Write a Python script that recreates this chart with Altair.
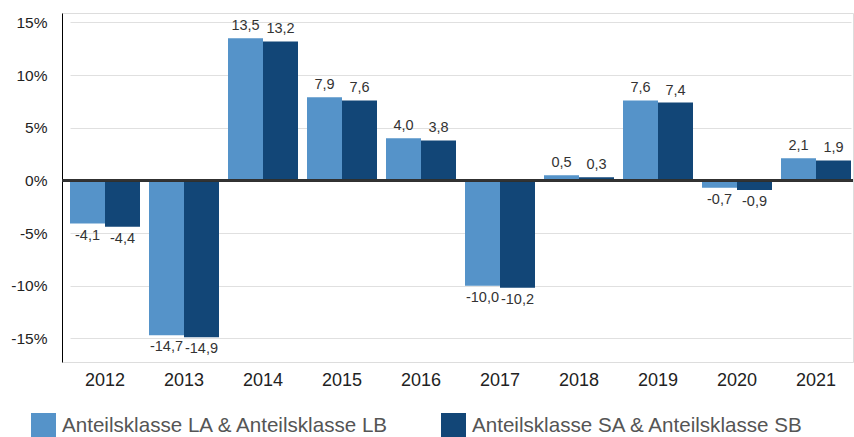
import altair as alt
import pandas as pd

years = ["2012", "2013", "2014", "2015", "2016", "2017", "2018", "2019", "2020", "2021"]
series = ["Anteilsklasse LA & Anteilsklasse LB", "Anteilsklasse SA & Anteilsklasse SB"]
la_values = [-4.1, -14.7, 13.5, 7.9, 4.0, -10.0, 0.5, 7.6, -0.7, 2.1]
sa_values = [-4.4, -14.9, 13.2, 7.6, 3.8, -10.2, 0.3, 7.4, -0.9, 1.9]
y_ticks = [-15, -10, -5, 0, 5, 10, 15]
colors = ["#5593C9", "#124677"]

rows = []
for s, vals in zip(series, [la_values, sa_values]):
    for y, v in zip(years, vals):
        rows.append({"year": y, "series": s, "value": v,
                     "label": f"{v:.1f}".replace(".", ",")})
df = pd.DataFrame(rows)

FONT = "Liberation Sans"

x_enc = alt.X("year:N", sort=years, title=None,
              scale=alt.Scale(range=[8, 789], paddingInner=9 / 79, paddingOuter=0),
              axis=alt.Axis(domain=False, ticks=False, labelAngle=0, labelFontSize=18,
                            labelColor="#222", labelPadding=9, labelFont=FONT, grid=False))
xoff = alt.XOffset("series:N", sort=series, scale=alt.Scale(paddingInner=0, paddingOuter=0))
y_scale = alt.Scale(domain=[-17.24, 15.9], nice=False, zero=False)
y_enc = alt.Y("value:Q", title=None, scale=y_scale,
              axis=alt.Axis(values=y_ticks, labelExpr="datum.value + '%'", domain=True,
                            domainColor="#000", domainWidth=1, ticks=False,
                            labelFontSize=15.5, labelColor="#222", labelPadding=15,
                            labelFont=FONT, grid=True, gridColor="#e0e0e0", gridWidth=1))

bars = alt.Chart(df).mark_bar().encode(
    x=x_enc,
    xOffset=xoff,
    y=y_enc,
    color=alt.Color("series:N", sort=series, title=None,
                    scale=alt.Scale(domain=series, range=colors),
                    legend=alt.Legend(orient="none", legendX=-31, legendY=400,
                                      direction="horizontal", columns=2,
                                      symbolType="square", symbolSize=625,
                                      symbolStrokeWidth=0, labelFontSize=20.6,
                                      labelFont=FONT, labelColor="#555",
                                      labelLimit=500, labelOffset=6,
                                      columnPadding=51, padding=0)),
)

pos_text = alt.Chart(df).transform_filter("datum.value >= 0").mark_text(
    baseline="bottom", dy=-5, fontSize=14.5, font=FONT, color="#333"
).encode(x=alt.X("year:N", sort=years), xOffset=alt.XOffset("series:N", sort=series),
         y=alt.Y("value:Q"), text="label:N")

neg_text = alt.Chart(df).transform_filter("datum.value < 0").mark_text(
    baseline="top", dy=5, fontSize=14.5, font=FONT, color="#333"
).encode(x=alt.X("year:N", sort=years), xOffset=alt.XOffset("series:N", sort=series),
         y=alt.Y("value:Q"), text="label:N")

zero = alt.Chart(df).mark_rule(color="#333", strokeWidth=1.5).encode(y=alt.datum(0))

chart = alt.layer(bars, zero, pos_text, neg_text).properties(
    width=791, height=349,
    autosize=alt.AutoSizeParams(type="none"),
    padding={"left": 62, "top": 13, "right": 1, "bottom": 75},
).configure_view(stroke=None).configure(background="white")

chart.save("out.html", embed_options={"renderer": "svg", "actions": False})
